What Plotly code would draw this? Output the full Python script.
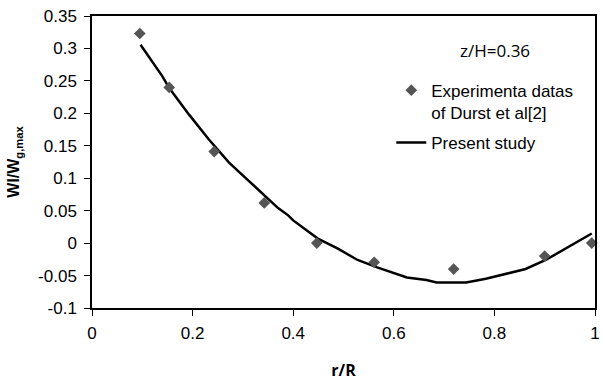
import plotly.graph_objects as go

# Experimental data (Durst et al)
exp_r = [0.095, 0.1535, 0.243, 0.3425, 0.447, 0.561, 0.719, 0.900, 0.9935]
exp_w = [0.323, 0.240, 0.141, 0.062, 0.0, -0.0296, -0.040, -0.020, 0.0]

# Present study curve
sim_r = [0.0965, 0.140, 0.1535, 0.193, 0.232, 0.272, 0.311, 0.350, 0.370, 0.390,
         0.400, 0.449, 0.488, 0.528, 0.567, 0.626, 0.665, 0.685, 0.744, 0.783,
         0.862, 0.902, 0.941, 0.9935]
sim_w = [0.3056, 0.257, 0.239, 0.198, 0.160, 0.1245, 0.0964, 0.0684, 0.054, 0.0428,
         0.035, 0.007, -0.0082, -0.026, -0.0373, -0.053, -0.057, -0.0607, -0.0607, -0.055,
         -0.0399, -0.026, -0.0082, 0.0148]

x_ticks = [0, 0.2, 0.4, 0.6, 0.8, 1]
x_labels = ["0", "0.2", "0.4", "0.6", "0.8", "1"]
y_ticks = [0.35, 0.3, 0.25, 0.2, 0.15, 0.1, 0.05, 0, -0.05, -0.1]
y_labels = ["0.35", "0.3", "0.25", "0.2", "0.15", "0.1", "0.05", "0", "-0.05", "-0.1"]

ARIAL = "Arial, Liberation Sans, sans-serif"

fig = go.Figure()
fig.add_trace(go.Scatter(
    x=sim_r, y=sim_w, mode="lines", name="Present study",
    line=dict(color="black", width=2.5), legendrank=2, legendgroup="sim",
))
fig.add_trace(go.Scatter(
    x=exp_r, y=exp_w, mode="markers", name="Experimenta datas<br>of Durst et al[2]",
    marker=dict(symbol="diamond", size=9, color="#555555"), cliponaxis=False,
    legendrank=1, legendgroup="exp",
))

fig.add_annotation(
    text="z/H=0.36", xref="paper", yref="paper", x=0.802, y=0.881,
    showarrow=False, font=dict(family="Open Sans", size=17, color="black"),
    xanchor="center", yanchor="middle",
)

fig.update_layout(
    width=603, height=381,
    margin=dict(l=92, r=3, t=16, b=71),
    paper_bgcolor="white", plot_bgcolor="white",
    font=dict(family=ARIAL, size=17, color="black"),
    showlegend=True,
    legend=dict(
        x=0.595, y=0.806, xanchor="left", yanchor="top",
        bgcolor="rgba(0,0,0,0)", font=dict(family=ARIAL, size=17, color="black"),
        valign="top", tracegroupgap=5, itemwidth=30,
    ),
    xaxis=dict(
        range=[0, 1], tickvals=x_ticks, ticktext=x_labels,
        showline=True, linecolor="black", linewidth=1.5, mirror=True,
        ticks="outside", ticklen=6, tickcolor="black", showgrid=False, zeroline=False,
        ticklabelstandoff=3,
        title=dict(text="<b>r/R</b>", font=dict(family="Open Sans", size=16), standoff=24),
    ),
    yaxis=dict(
        range=[-0.1, 0.35], tickvals=y_ticks, ticktext=y_labels,
        showline=True, linecolor="black", linewidth=1.5, mirror=True,
        ticks="outside", ticklen=6, tickcolor="black", showgrid=False, zeroline=False,
        ticklabelstandoff=4,
        title=dict(text="<b>Wl/W<sub>g,max</sub></b>", font=dict(family=ARIAL, size=16), standoff=14),
    ),
)

fig.write_html("out.html")
